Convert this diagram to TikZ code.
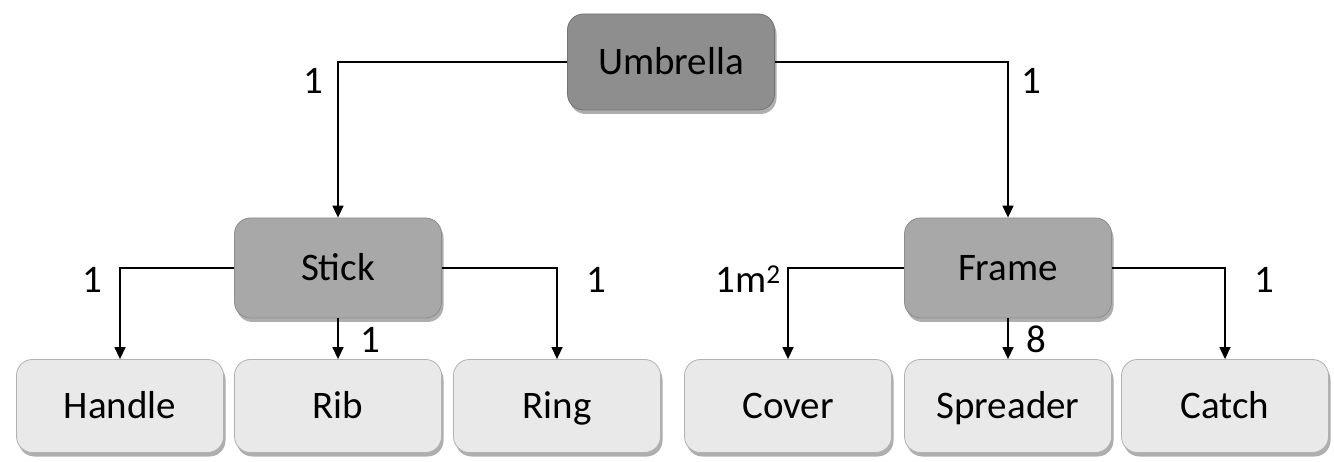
\documentclass[tikz,border=0pt]{standalone}
\usepackage{fontspec}
\setmainfont{Carlito}
\usetikzlibrary{arrows.meta,shadows}
\definecolor{topfill}{RGB}{142,142,142}
\definecolor{midfill}{RGB}{168,168,168}
\definecolor{leaffill}{RGB}{233,233,233}
\begin{document}
\begin{tikzpicture}[x=1pt,y=-1pt,
  box/.style={rounded corners=16pt, inner sep=0pt, minimum width=207pt,
    text height=25pt, text depth=0pt, font=\fontsize{39}{44}\selectfont,
    drop shadow={shadow xshift=2pt, shadow yshift=-4pt, opacity=0.45, fill=black!70}},
  topbox/.style={box, minimum height=96pt, fill=topfill, draw=black!55, line width=0.8pt},
  midbox/.style={box, minimum height=100pt, fill=midfill, draw=black!45, line width=0.8pt},
  leafbox/.style={box, minimum height=93pt, fill=leaffill, draw=black!30, line width=0.8pt},
  conn/.style={line width=1.4pt, -{Triangle[width=11pt,length=12pt]}},
  lbl/.style={inner sep=0pt, text height=25pt, text depth=0pt, font=\fontsize{39}{44}\selectfont}]
\useasboundingbox (0,0) rectangle (1334,462);
\fill[white] (0,0) rectangle (1334,462);

\node[topbox] (umb) at (671,62) {Umbrella};
\node[midbox] (stick) at (338,268) {Stick};
\node[midbox] (frame) at (1008,268) {Frame};

\node[leafbox] (handle) at (120,406) {Handle};
\node[leafbox] (rib) at (338,406) {Rib};
\node[leafbox] (ring) at (557,406) {Ring};
\node[leafbox] (cover) at (788,406) {Cover};
\node[leafbox] (spreader) at (1008,406) {Spreader};
\node[leafbox] (catch) at (1225,406) {Catch};

\draw[conn] (umb.west) -| (stick.north);
\draw[conn] (umb.east) -| (frame.north);
\draw[conn] (stick.west) -| (handle.north);
\draw[conn] (stick.east) -| (ring.north);
\draw[conn] (stick.south) -- (rib.north);
\draw[conn] (frame.west) -| (cover.north);
\draw[conn] (frame.south) -- (spreader.north);
\draw[conn] (frame.east) -| (catch.north);

\node[lbl] (l1) at (313,81) {1};
\node[lbl] (l2) at (1031,81) {1};
\node[lbl] (l3) at (92,280) {1};
\node[lbl] (l4) at (596,280) {1};
\node[lbl] (l5) at (370,340) {1};
\node[lbl] (l6) at (748,280) {1m\textsuperscript{2}};
\node[lbl] (l7) at (1036,340) {8};
\node[lbl] (l8) at (1264,280) {1};
\end{tikzpicture}
\end{document}
